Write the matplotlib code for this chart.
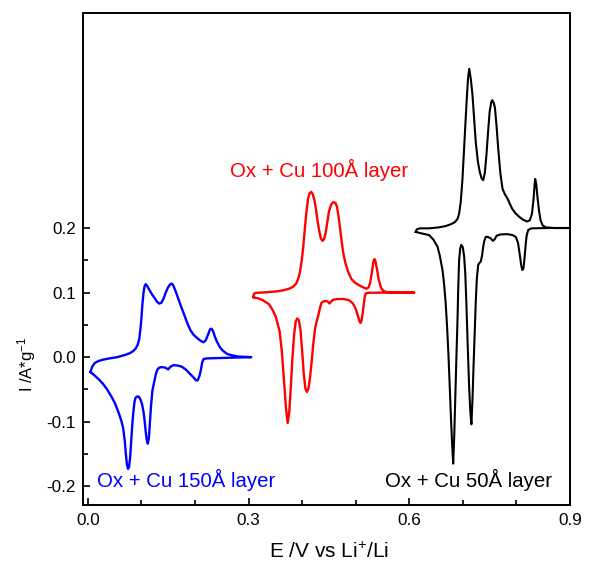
import matplotlib
matplotlib.use("Agg")
import matplotlib.pyplot as plt
from matplotlib.ticker import FixedLocator

plt.rcParams['font.family'] = ['Liberation Sans', 'DejaVu Sans']
plt.rcParams['mathtext.default'] = 'regular'

# Ox + Cu 150A layer (blue), baseline 0.0
# anodic branch, left -> right
blue_up_x = [0.005, 0.008, 0.013, 0.020, 0.028, 0.040, 0.055, 0.068, 0.078, 0.084, 0.089, 0.093,
             0.096, 0.098, 0.100, 0.102, 0.104, 0.106, 0.108, 0.111, 0.115, 0.120, 0.125, 0.129,
             0.133, 0.137, 0.141, 0.145, 0.149, 0.153, 0.156, 0.159, 0.163, 0.167, 0.172, 0.177,
             0.182, 0.187, 0.192, 0.198, 0.205, 0.211, 0.216, 0.220, 0.224, 0.228, 0.231, 0.234,
             0.237, 0.241, 0.246, 0.252, 0.260, 0.268, 0.280, 0.305]
blue_up_y = [-0.023, -0.015, -0.009, -0.006, -0.004, -0.002, 0.000, 0.003, 0.006, 0.009, 0.013, 0.019,
             0.028, 0.042, 0.060, 0.083, 0.100, 0.110, 0.113, 0.110, 0.104, 0.097, 0.091, 0.086,
             0.083, 0.084, 0.090, 0.099, 0.107, 0.112, 0.114, 0.112, 0.104, 0.095, 0.083, 0.072,
             0.061, 0.050, 0.041, 0.034, 0.029, 0.025, 0.023, 0.026, 0.034, 0.043, 0.044, 0.040,
             0.032, 0.024, 0.016, 0.010, 0.005, 0.003, 0.001, 0.000]
# cathodic branch, right -> left
blue_dn_x = [0.305, 0.260, 0.222, 0.216, 0.2135, 0.211, 0.208, 0.205, 0.202, 0.198, 0.192, 0.184,
             0.176, 0.168, 0.160, 0.154, 0.150, 0.146, 0.1435, 0.138, 0.134, 0.130, 0.127, 0.124,
             0.1205, 0.118, 0.116, 0.114, 0.112, 0.110, 0.108, 0.106, 0.104, 0.101, 0.098, 0.095,
             0.092, 0.089, 0.087, 0.085, 0.083, 0.081, 0.079, 0.077, 0.075, 0.073, 0.071, 0.069,
             0.066, 0.062, 0.057, 0.051, 0.044, 0.036, 0.028, 0.020, 0.012, 0.005]
blue_dn_y = [0.000, -0.001, -0.002, -0.003, -0.008, -0.020, -0.030, -0.036, -0.036, -0.032, -0.027, -0.020,
             -0.015, -0.013, -0.0125, -0.015, -0.019, -0.017, -0.016, -0.0155, -0.016, -0.019, -0.026, -0.038,
             -0.052, -0.075, -0.100, -0.125, -0.134, -0.128, -0.115, -0.098, -0.085, -0.072, -0.065, -0.061,
             -0.061, -0.063, -0.070, -0.085, -0.105, -0.130, -0.155, -0.170, -0.173, -0.166, -0.150, -0.130,
             -0.110, -0.097, -0.085, -0.072, -0.061, -0.050, -0.041, -0.034, -0.028, -0.023]

# Ox + Cu 100A layer (red), baseline 0.1
red_up_x = [0.309, 0.310, 0.314, 0.325, 0.340, 0.355, 0.367, 0.376, 0.383, 0.389, 0.393, 0.396,
            0.399, 0.402, 0.405, 0.408, 0.411, 0.414, 0.417, 0.420, 0.423, 0.426, 0.429, 0.432,
            0.435, 0.438, 0.441, 0.444, 0.447, 0.450, 0.454, 0.458, 0.462, 0.465, 0.468, 0.471,
            0.474, 0.477, 0.481, 0.486, 0.492, 0.499, 0.507, 0.514, 0.520, 0.524, 0.527, 0.530,
            0.533, 0.535, 0.537, 0.540, 0.543, 0.547, 0.551, 0.556, 0.570, 0.609]
red_up_y = [0.093, 0.098, 0.0997, 0.100, 0.101, 0.102, 0.104, 0.106, 0.109, 0.114, 0.122, 0.132,
            0.148, 0.170, 0.198, 0.225, 0.245, 0.254, 0.256, 0.252, 0.243, 0.228, 0.210, 0.195,
            0.184, 0.180, 0.183, 0.193, 0.209, 0.225, 0.236, 0.240, 0.239, 0.233, 0.218, 0.198,
            0.178, 0.160, 0.145, 0.132, 0.121, 0.115, 0.111, 0.108, 0.106, 0.108, 0.115, 0.130,
            0.148, 0.152, 0.148, 0.135, 0.120, 0.108, 0.103, 0.101, 0.100, 0.100]
red_dn_x = [0.609, 0.560, 0.525, 0.519, 0.517, 0.515, 0.513, 0.511, 0.509, 0.507, 0.504, 0.500,
            0.495, 0.488, 0.478, 0.466, 0.458, 0.454, 0.451, 0.448, 0.444, 0.439, 0.436, 0.433,
            0.430, 0.427, 0.424, 0.421, 0.418, 0.415, 0.412, 0.409, 0.406, 0.403, 0.400, 0.397,
            0.394, 0.391, 0.388, 0.385, 0.382, 0.379, 0.376, 0.373, 0.370, 0.366, 0.362, 0.358,
            0.351, 0.345, 0.338, 0.327, 0.318, 0.312, 0.309]
red_dn_y = [0.100, 0.100, 0.0997, 0.099, 0.094, 0.082, 0.068, 0.057, 0.053, 0.056, 0.064, 0.075,
            0.083, 0.088, 0.090, 0.090, 0.089, 0.086, 0.083, 0.086, 0.087, 0.086, 0.084, 0.075,
            0.064, 0.055, 0.043, 0.022, -0.005, -0.030, -0.048, -0.054, -0.048, -0.025, 0.010, 0.042,
            0.057, 0.060, 0.055, 0.035, 0.000, -0.045, -0.085, -0.102, -0.080, -0.035, 0.010, 0.040,
            0.062, 0.073, 0.082, 0.088, 0.091, 0.092, 0.093]

# Ox + Cu 50A layer (black), baseline 0.2
blk_up_x = [0.612, 0.614, 0.620, 0.637, 0.655, 0.668, 0.678, 0.685, 0.690, 0.693, 0.696, 0.699,
            0.702, 0.705, 0.708, 0.710, 0.712, 0.715, 0.718, 0.721, 0.724, 0.728, 0.7315, 0.735,
            0.738, 0.741, 0.744, 0.747, 0.750, 0.753, 0.755, 0.758, 0.760, 0.763, 0.766, 0.770,
            0.774, 0.778, 0.783, 0.788, 0.792, 0.798, 0.805, 0.812, 0.820, 0.825, 0.829, 0.832,
            0.834, 0.835, 0.837, 0.839, 0.842, 0.845, 0.849, 0.855, 0.870, 0.910]
blk_up_y = [0.194, 0.198, 0.1995, 0.1995, 0.201, 0.203, 0.206, 0.209, 0.214, 0.222, 0.240, 0.272,
            0.318, 0.365, 0.410, 0.435, 0.4465, 0.430, 0.406, 0.370, 0.334, 0.303, 0.287, 0.277,
            0.274, 0.285, 0.313, 0.348, 0.380, 0.395, 0.398, 0.393, 0.3855, 0.357, 0.323, 0.285,
            0.261, 0.253, 0.246, 0.237, 0.230, 0.223, 0.2175, 0.213, 0.210, 0.212, 0.222, 0.245,
            0.268, 0.276, 0.268, 0.250, 0.228, 0.212, 0.204, 0.201, 0.200, 0.200]
blk_dn_x = [0.910, 0.860, 0.828, 0.822, 0.819, 0.817, 0.815, 0.813, 0.811, 0.809, 0.806, 0.803,
            0.799, 0.793, 0.783, 0.770, 0.763, 0.759, 0.756, 0.752, 0.747, 0.743, 0.740, 0.738,
            0.736, 0.7335, 0.731, 0.7285, 0.726, 0.724, 0.722, 0.7197, 0.718, 0.716, 0.714, 0.7117,
            0.709, 0.7066, 0.7045, 0.7024, 0.700, 0.697, 0.695, 0.693, 0.6915, 0.690, 0.688, 0.6856,
            0.6838, 0.682, 0.680, 0.678, 0.6755, 0.673, 0.6705, 0.668, 0.665, 0.662, 0.657, 0.6527,
            0.645, 0.637, 0.6185, 0.612]
blk_dn_y = [0.200, 0.200, 0.1995, 0.197, 0.188, 0.172, 0.152, 0.137, 0.135, 0.142, 0.160, 0.177,
            0.186, 0.189, 0.1905, 0.190, 0.188, 0.182, 0.180, 0.184, 0.186, 0.1865, 0.180, 0.171,
            0.158, 0.148, 0.146, 0.1425, 0.120, 0.083, 0.035, -0.020, -0.065, -0.104, -0.085, -0.046,
            0.020, 0.083, 0.130, 0.156, 0.170, 0.174, 0.168, 0.150, 0.110, 0.057, 0.000, -0.072,
            -0.125, -0.165, -0.135, -0.098, -0.045, 0.006, 0.048, 0.083, 0.113, 0.135, 0.157, 0.171,
            0.182, 0.189, 0.1925, 0.194]

labels = ['Ox + Cu 150Å layer', 'Ox + Cu 100Å layer', 'Ox + Cu 50Å layer']

fig = plt.figure(figsize=(5.9, 5.62), dpi=100)
ax = fig.add_axes([83 / 590, 1 - 505 / 562, 487 / 590, 492 / 562])

# each CV loop: anodic branch then cathodic branch back
ax.plot(blue_up_x + blue_dn_x, blue_up_y + blue_dn_y, color='#0000ff', lw=1.7,
        solid_joinstyle='round')
ax.plot(red_up_x + red_dn_x, red_up_y + red_dn_y, color='#ff0000', lw=1.7,
        solid_joinstyle='round')
ax.plot(blk_up_x + blk_dn_x, blk_up_y + blk_dn_y, color='black', lw=1.5,
        solid_joinstyle='round')

ax.text(0.017, -0.191, labels[0], color='#0000ff', fontsize=14.7, ha='left', va='center')
ax.text(0.266, 0.290, labels[1], color='#ff0000', fontsize=14.7, ha='left', va='center')
ax.text(0.866, -0.191, labels[2], color='black', fontsize=14.7, ha='right', va='center')

ax.set_xlim(-0.009, 0.9)
ax.set_ylim(-0.229, 0.533)

ax.xaxis.set_major_locator(FixedLocator([0.0, 0.3, 0.6, 0.9]))
ax.xaxis.set_minor_locator(FixedLocator([0.1, 0.2, 0.4, 0.5, 0.7, 0.8]))
ax.yaxis.set_major_locator(FixedLocator([-0.2, -0.1, 0.0, 0.1, 0.2]))
ax.yaxis.set_minor_locator(FixedLocator([-0.15, -0.05, 0.05, 0.15]))
ax.set_xticklabels(['0.0', '0.3', '0.6', '0.9'])
ax.set_yticklabels(['-0.2', '-0.1', '0.0', '0.1', '0.2'])

ax.tick_params(which='both', direction='in', width=1.2, labelsize=12.3)
ax.tick_params(which='major', length=5)
ax.tick_params(which='minor', length=3.5)
ax.tick_params(axis='x', pad=6)
ax.tick_params(axis='y', pad=5)
for s in ax.spines.values():
    s.set_linewidth(1.4)

ax.set_xlabel('E /V vs Li$^{+}$/Li', fontsize=15)
ax.set_ylabel('I /A*g$^{-1}$', fontsize=12)
ax.xaxis.set_label_coords(0.505, -0.0955)
ax.yaxis.set_label_coords(-0.115, 0.287)
ax.xaxis.label.set_va('center')
ax.yaxis.label.set_va('center')

fig.savefig('out.png', dpi=100)
